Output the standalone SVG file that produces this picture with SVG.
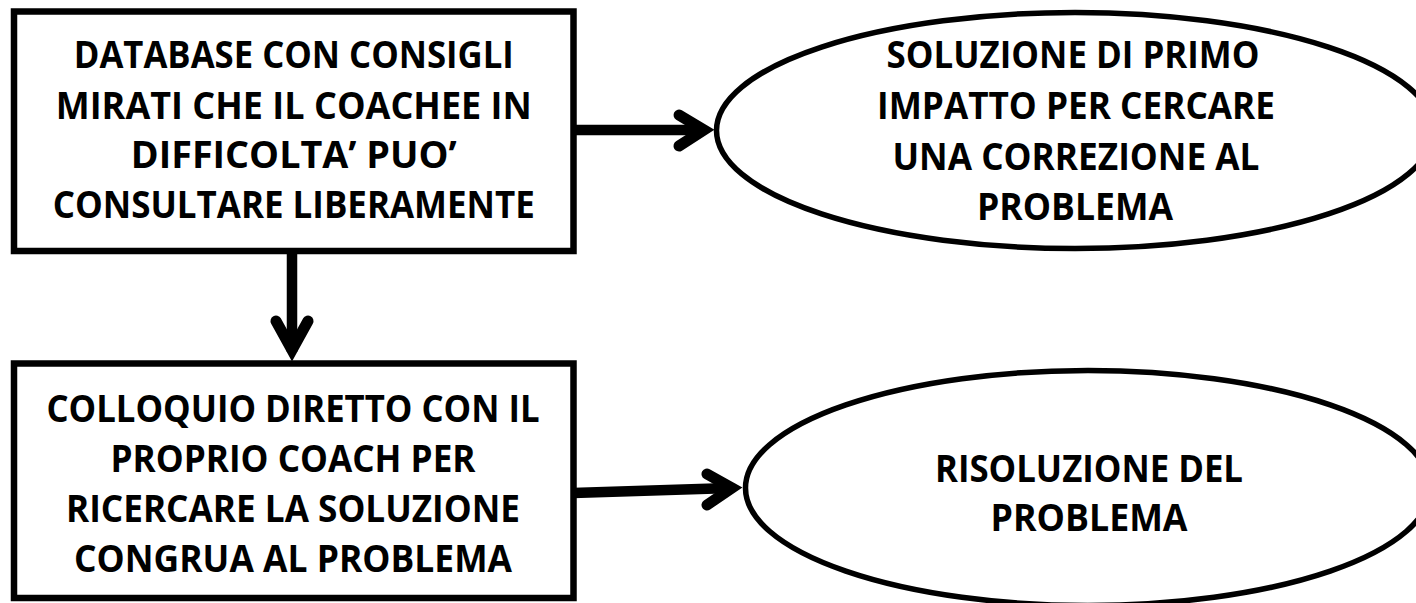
<svg xmlns="http://www.w3.org/2000/svg" width="1416" height="603" viewBox="0 0 1416 603">
<style>
.box{fill:#fff;stroke:#000;stroke-width:6.5}
.ell{fill:#fff;stroke:#000;stroke-width:5.5}
.t{font-family:"Open Sans","Liberation Sans",sans-serif;font-weight:700;font-size:37px;fill:#000;text-anchor:middle}
.ln{fill:none;stroke:#000;stroke-width:10.5;stroke-linecap:butt}
.hd{fill:none;stroke:#000;stroke-width:11;stroke-linecap:round;stroke-linejoin:miter}
</style>
<rect width="1416" height="603" fill="#fff"/>
<g id="connectors">
<path class="ln" d="M573,130 H704"/>
<path class="hd" d="M679,115 L704,130 L679,146"/>
<path class="ln" d="M292,252 V352"/>
<path class="hd" d="M276,321 L292,350 L308,321"/>
<path class="ln" d="M573,493 L731,488"/>
<path class="hd" d="M707,474 L732,488 L707,505"/>
</g>
<g id="node-database">
<rect class="box" x="14" y="11.5" width="559.5" height="239.5"/>
<text class="t" x="293.75" y="68" textLength="440" lengthAdjust="spacingAndGlyphs">DATABASE CON CONSIGLI</text>
<text class="t" x="293.75" y="119" textLength="476" lengthAdjust="spacingAndGlyphs">MIRATI CHE IL COACHEE IN</text>
<text class="t" x="293.75" y="168" textLength="326" lengthAdjust="spacingAndGlyphs">DIFFICOLTA’ PUO’</text>
<text class="t" x="293.75" y="218" textLength="482" lengthAdjust="spacingAndGlyphs">CONSULTARE LIBERAMENTE</text>
</g>
<g id="node-colloquio">
<rect class="box" x="14" y="363.5" width="559.5" height="234.5"/>
<text class="t" x="293" y="422" textLength="493" lengthAdjust="spacingAndGlyphs">COLLOQUIO DIRETTO CON IL</text>
<text class="t" x="293" y="472" textLength="365" lengthAdjust="spacingAndGlyphs">PROPRIO COACH PER</text>
<text class="t" x="293" y="522" textLength="454" lengthAdjust="spacingAndGlyphs">RICERCARE LA SOLUZIONE</text>
<text class="t" x="293" y="572" textLength="438" lengthAdjust="spacingAndGlyphs">CONGRUA AL PROBLEMA</text>
</g>
<g id="node-soluzione">
<ellipse class="ell" cx="1075" cy="130.5" rx="358.5" ry="118"/>
<text class="t" x="1073" y="68" textLength="373" lengthAdjust="spacingAndGlyphs">SOLUZIONE DI PRIMO</text>
<text class="t" x="1076" y="119" textLength="398" lengthAdjust="spacingAndGlyphs">IMPATTO PER CERCARE</text>
<text class="t" x="1076" y="170" textLength="367" lengthAdjust="spacingAndGlyphs">UNA CORREZIONE AL</text>
<text class="t" x="1075" y="220" textLength="196" lengthAdjust="spacingAndGlyphs">PROBLEMA</text>
</g>
<g id="node-risoluzione">
<ellipse class="ell" cx="1088" cy="488" rx="342.5" ry="117.5"/>
<text class="t" x="1089" y="482" textLength="308" lengthAdjust="spacingAndGlyphs">RISOLUZIONE DEL</text>
<text class="t" x="1089" y="531" textLength="197" lengthAdjust="spacingAndGlyphs">PROBLEMA</text>
</g>
</svg>
